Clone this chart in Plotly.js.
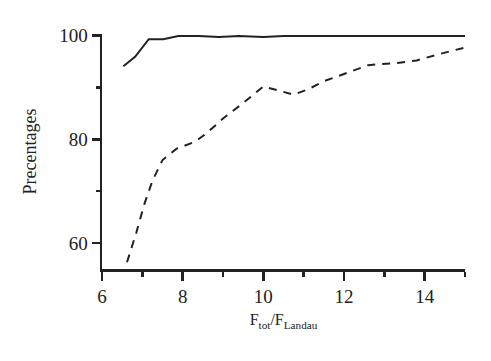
<!DOCTYPE html>
<html>
<head>
<meta charset="utf-8">
<script src="https://cdn.plot.ly/plotly-3.0.1.min.js"></script>
<style>html,body{margin:0;padding:0;background:#fff;}#chart{width:491px;height:361px;}</style>
</head>
<body>
<div id="chart"></div>
<script>
// Solid curve
var solidX = [6.53, 6.82, 7.16, 7.52, 7.89, 8.4, 8.9, 9.4, 10.0, 10.5, 11.0, 12.0, 13.0, 14.0, 15.0];
var solidY = [94.1, 95.9, 99.3, 99.3, 99.9, 99.9, 99.7, 99.9, 99.7, 99.9, 99.9, 99.9, 99.9, 99.9, 99.9];
// Dashed curve
var dashX = [6.62, 6.85, 7.05, 7.25, 7.5, 7.85, 8.3, 8.6, 9.0, 9.5, 10.0, 10.75, 11.1, 11.5, 12.0, 12.6, 13.3, 13.8, 14.4, 15.0];
var dashY = [56.3, 62.0, 67.5, 72.0, 76.0, 78.2, 79.5, 81.2, 84.0, 87.0, 90.2, 88.6, 89.6, 91.2, 92.6, 94.3, 94.7, 95.2, 96.5, 97.7];

var FONT = "'Liberation Serif', 'Times New Roman', serif";

var traces = [
  {x: solidX, y: solidY, mode: 'lines', line: {color: '#222', width: 2, dash: 'solid'}, showlegend: false},
  {x: dashX, y: dashY, mode: 'lines', line: {color: '#222', width: 2, dash: '8px,7px'}, showlegend: false}
];

var layout = {
  width: 491, height: 361,
  margin: {l: 102, r: 26, t: 34, b: 92},
  paper_bgcolor: '#fff', plot_bgcolor: '#fff',
  font: {family: FONT, color: '#222', size: 18},
  xaxis: {
    range: [6, 15], tick0: 6, dtick: 2, ticks: 'outside', ticklen: 9, tickwidth: 2.5, tickcolor: '#222',
    showline: true, linewidth: 2.5, linecolor: '#222', showgrid: false, zeroline: false,
    minor: {dtick: 1, tick0: 6, ticks: 'outside', ticklen: 5, tickwidth: 2.5, tickcolor: '#222'},
    tickfont: {family: FONT, size: 19},
    title: {text: 'F<sub>tot</sub>/F<sub>Landau</sub>', font: {family: FONT, size: 16}, standoff: 8}
  },
  yaxis: {
    range: [55, 100.3], tick0: 60, dtick: 20, ticks: 'outside', ticklen: 8, tickwidth: 2.5, tickcolor: '#222',
    showline: true, linewidth: 2.5, linecolor: '#222', showgrid: false, zeroline: false,
    minor: {dtick: 10, tick0: 60, ticks: 'outside', ticklen: 4, tickwidth: 2.5, tickcolor: '#222'},
    tickfont: {family: FONT, size: 19},
    title: {text: 'Precentages', font: {family: FONT, size: 18}, standoff: 18}
  }
};

Plotly.newPlot('chart', traces, layout, {displayModeBar: false, staticPlot: true});
</script>
</body>
</html>
